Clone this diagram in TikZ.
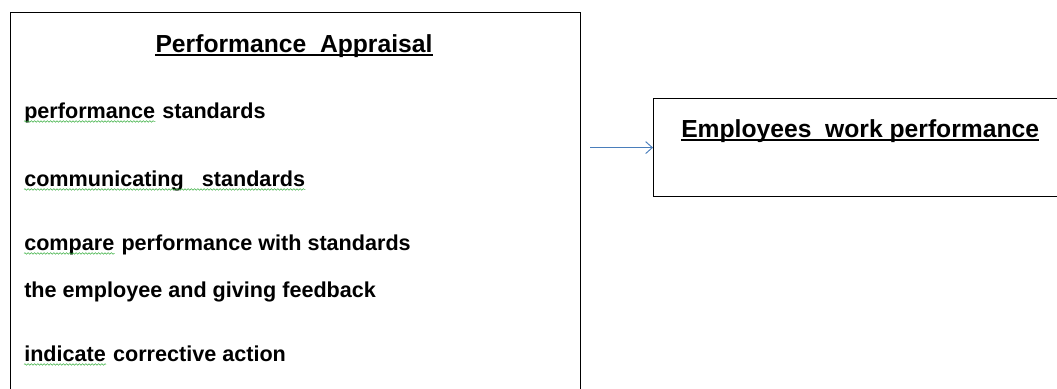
\documentclass[tikz,border=0pt]{standalone}
\usepackage{fontspec}
\setmainfont{Liberation Sans}
\usepackage{tikz}
\usetikzlibrary{arrows.meta}
\usetikzlibrary{positioning}
\usetikzlibrary{decorations.pathmorphing}
\definecolor{arrowblue}{HTML}{4A7EBB}
\definecolor{spellgreen}{HTML}{3CB043}
\tikzset{
	>={Straight Barb[length=5pt,width=9pt]},
	panel/.style={
		rectangle,
		draw=black, line width=0.9pt,
		anchor=north west,
		inner sep=0pt},
	heading/.style={
		font=\fontsize{18.5}{22}\selectfont\bfseries,
		inner sep=0pt},
	item/.style={
		font=\fontsize{16.2}{19}\selectfont\bfseries,
		anchor=base west,
		inner sep=0pt},
	gap/.style={xshift=5pt},
	underl/.style={draw=black, line width=1.1pt},
	spell/.style={
		draw=spellgreen, line width=0.4pt,
		decorate, decoration={snake, amplitude=0.6pt, segment length=2.4pt}},
	flow/.style={draw=arrowblue, line width=0.7pt, ->},
}
\begin{document}
\begin{tikzpicture}[x=0.75pt, y=-0.75pt]
	\useasboundingbox (0,0) rectangle (1057,389);
	\clip (0,0) rectangle (1057,389);
	% appraisal steps
	\node[panel, minimum width=427.5pt, minimum height=300pt] (appraisal) at (10,12) {};
	\node[heading, anchor=base] (title) at (294,52) {Performance\ \ Appraisal};
	\draw[underl] ([yshift=-2.3pt]title.base west) -- ([yshift=-2.3pt]title.base east);
	\node[item] (perf) at (24,118) {performance};
	\node[item] (standards) at ([gap]perf.base east) {standards};
	\node[item] (communicate) at (24,186) {communicating\ \ \ standards};
	\node[item] (comp) at (24,250) {compare};
	\node[item] (compare) at ([gap]comp.base east) {performance with standards};
	\node[item] (feedback) at (24,297) {the employee and giving feedback};
	\node[item] (indic) at (24,361) {indicate};
	\node[item] (action) at ([gap]indic.base east) {corrective action};
	\draw[spell] ([yshift=-2.6pt]perf.base west) -- ([yshift=-2.6pt]perf.base east);
	\draw[spell] ([yshift=-2.6pt]communicate.base west) -- ([yshift=-2.6pt]communicate.base east);
	\draw[spell] ([yshift=-2.6pt]comp.base west) -- ([yshift=-2.6pt]comp.base east);
	\draw[spell] ([yshift=-2.6pt]indic.base west) -- ([yshift=-2.6pt]indic.base east);
	% outcome
	\node[panel, minimum width=320pt, minimum height=73.5pt] (result) at (653,98) {};
	\node[heading, anchor=base west] (outcome) at (681,137) {Employees\ \ work\ performance};
	\draw[underl] ([yshift=-2.3pt]outcome.base west) -- ([yshift=-2.3pt]outcome.base east);
	\coordinate[left=47pt of result.west] (src);
	\draw[flow] (src) -- (result.west);
\end{tikzpicture}
\end{document}
